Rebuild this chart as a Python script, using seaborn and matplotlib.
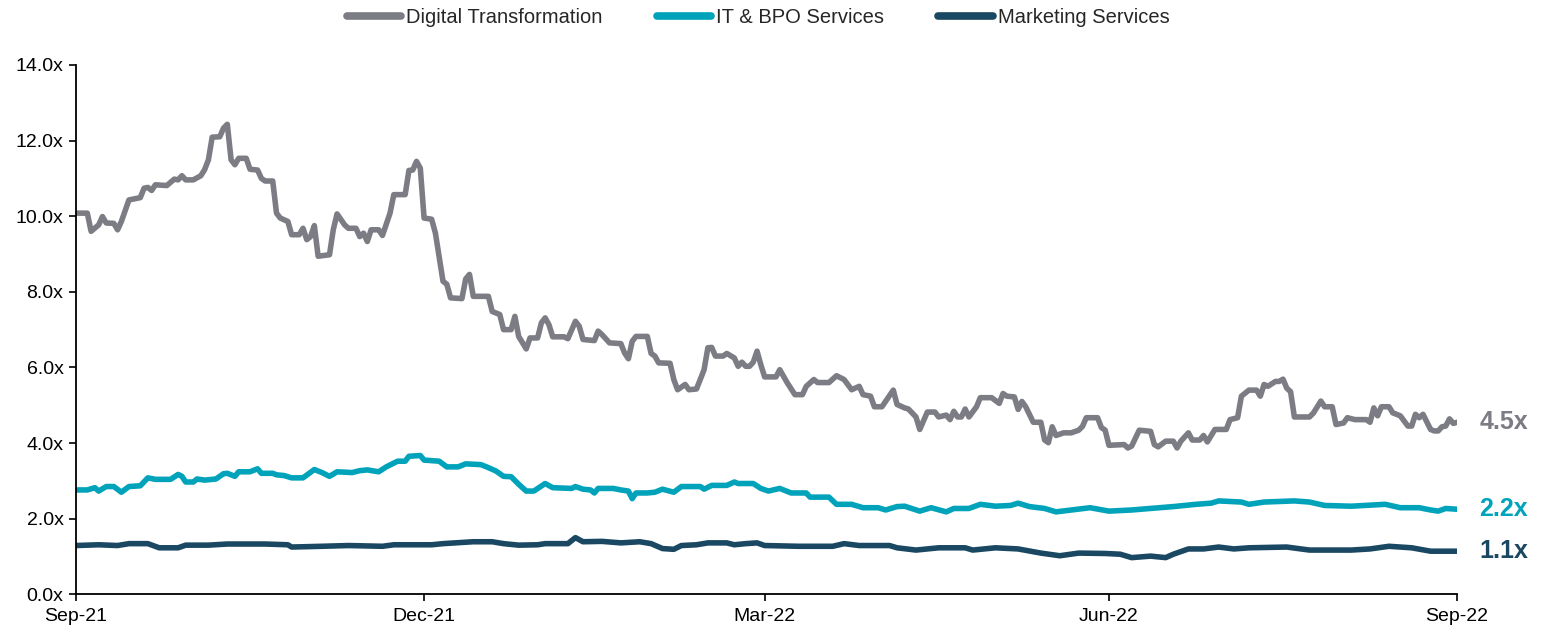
import pandas as pd
import matplotlib
matplotlib.use("Agg")
import matplotlib.pyplot as plt
import matplotlib.dates as mdates
import seaborn as sns

sns.set_theme(style="white")
plt.rcParams['font.family'] = ['Liberation Sans', 'DejaVu Sans']

# EV / revenue multiples
digital_dates = [
    "2021-09-30", "2021-10-03", "2021-10-04", "2021-10-06", "2021-10-07", "2021-10-08",
    "2021-10-10", "2021-10-11", "2021-10-12", "2021-10-14", "2021-10-17", "2021-10-18",
    "2021-10-19", "2021-10-20", "2021-10-21", "2021-10-24", "2021-10-26", "2021-10-27",
    "2021-10-28", "2021-10-29", "2021-10-31", "2021-11-02", "2021-11-03", "2021-11-04",
    "2021-11-05", "2021-11-07", "2021-11-08", "2021-11-09", "2021-11-10", "2021-11-11",
    "2021-11-12", "2021-11-14", "2021-11-15", "2021-11-17", "2021-11-18", "2021-11-19",
    "2021-11-21", "2021-11-22", "2021-11-23", "2021-11-25", "2021-11-26", "2021-11-28",
    "2021-11-29", "2021-11-30", "2021-12-01", "2021-12-02", "2021-12-03", "2021-12-06",
    "2021-12-07", "2021-12-08", "2021-12-10", "2021-12-11", "2021-12-13", "2021-12-14",
    "2021-12-15", "2021-12-16", "2021-12-17", "2021-12-19", "2021-12-20", "2021-12-22",
    "2021-12-23", "2021-12-26", "2021-12-27", "2021-12-28", "2021-12-29", "2021-12-30",
    "2021-12-31", "2022-01-02", "2022-01-03", "2022-01-05", "2022-01-06", "2022-01-07",
    "2022-01-10", "2022-01-11", "2022-01-12", "2022-01-13", "2022-01-17", "2022-01-18",
    "2022-01-20", "2022-01-21", "2022-01-23", "2022-01-24", "2022-01-25", "2022-01-27",
    "2022-01-28", "2022-01-30", "2022-01-31", "2022-02-01", "2022-02-02", "2022-02-03",
    "2022-02-06", "2022-02-07", "2022-02-09", "2022-02-10", "2022-02-11", "2022-02-14",
    "2022-02-15", "2022-02-16", "2022-02-18", "2022-02-21", "2022-02-22", "2022-02-23",
    "2022-02-24", "2022-02-25", "2022-02-28", "2022-03-01", "2022-03-02", "2022-03-03",
    "2022-03-06", "2022-03-07", "2022-03-08", "2022-03-10", "2022-03-11", "2022-03-13",
    "2022-03-15", "2022-03-16", "2022-03-17", "2022-03-18", "2022-03-20", "2022-03-21",
    "2022-03-23", "2022-03-24", "2022-03-25", "2022-03-26", "2022-03-27", "2022-03-28",
    "2022-03-29", "2022-03-30", "2022-03-31", "2022-04-03", "2022-04-04", "2022-04-06",
    "2022-04-08", "2022-04-10", "2022-04-11", "2022-04-13", "2022-04-14", "2022-04-17",
    "2022-04-19", "2022-04-21", "2022-04-23", "2022-04-25", "2022-04-26", "2022-04-28",
    "2022-04-29", "2022-05-01", "2022-05-04", "2022-05-05", "2022-05-07", "2022-05-08",
    "2022-05-10", "2022-05-11", "2022-05-13", "2022-05-15", "2022-05-16", "2022-05-18",
    "2022-05-19", "2022-05-20", "2022-05-21", "2022-05-22", "2022-05-23", "2022-05-24",
    "2022-05-26", "2022-05-27", "2022-05-30", "2022-06-01", "2022-06-02", "2022-06-03",
    "2022-06-05", "2022-06-06", "2022-06-07", "2022-06-08", "2022-06-10", "2022-06-12",
    "2022-06-13", "2022-06-14", "2022-06-15", "2022-06-16", "2022-06-18", "2022-06-20",
    "2022-06-22", "2022-06-23", "2022-06-24", "2022-06-27", "2022-06-28", "2022-06-29",
    "2022-06-30", "2022-07-04", "2022-07-05", "2022-07-06", "2022-07-08", "2022-07-11",
    "2022-07-12", "2022-07-13", "2022-07-15", "2022-07-17", "2022-07-18", "2022-07-19",
    "2022-07-21", "2022-07-22", "2022-07-24", "2022-07-25", "2022-07-26", "2022-07-28",
    "2022-07-31", "2022-08-01", "2022-08-03", "2022-08-04", "2022-08-06", "2022-08-08",
    "2022-08-09", "2022-08-10", "2022-08-11", "2022-08-13", "2022-08-14", "2022-08-15",
    "2022-08-16", "2022-08-17", "2022-08-18", "2022-08-22", "2022-08-23", "2022-08-25",
    "2022-08-26", "2022-08-28", "2022-08-29", "2022-08-31", "2022-09-01", "2022-09-03",
    "2022-09-06", "2022-09-07", "2022-09-08", "2022-09-09", "2022-09-10", "2022-09-12",
    "2022-09-13", "2022-09-15", "2022-09-17", "2022-09-18", "2022-09-19", "2022-09-20",
    "2022-09-21", "2022-09-23", "2022-09-24", "2022-09-25", "2022-09-26", "2022-09-27",
    "2022-09-28", "2022-09-29", "2022-09-30",
]
digital_values = [
    10.08, 10.08, 9.60, 9.77, 9.99, 9.82, 9.81, 9.64, 9.86, 10.43, 10.49, 10.74,
    10.76, 10.68, 10.83, 10.81, 10.98, 10.96, 11.07, 10.96, 10.96, 11.07, 11.23, 11.49,
    12.09, 12.10, 12.33, 12.43, 11.49, 11.36, 11.53, 11.53, 11.24, 11.22, 11.00, 10.93,
    10.93, 10.08, 9.95, 9.86, 9.51, 9.51, 9.68, 9.38, 9.46, 9.75, 8.94, 8.98,
    9.64, 10.06, 9.77, 9.68, 9.68, 9.46, 9.55, 9.33, 9.64, 9.64, 9.49, 10.08,
    10.57, 10.57, 11.21, 11.22, 11.45, 11.27, 9.95, 9.92, 9.55, 8.28, 8.20, 7.84,
    7.82, 8.34, 8.46, 7.88, 7.88, 7.48, 7.40, 7.00, 7.00, 7.35, 6.82, 6.49,
    6.78, 6.78, 7.18, 7.31, 7.13, 6.81, 6.81, 6.76, 7.22, 7.09, 6.74, 6.71,
    6.96, 6.87, 6.65, 6.63, 6.38, 6.23, 6.69, 6.82, 6.82, 6.37, 6.30, 6.12,
    6.11, 5.68, 5.41, 5.55, 5.41, 5.43, 5.94, 6.52, 6.53, 6.30, 6.30, 6.37,
    6.25, 6.03, 6.14, 6.03, 6.03, 6.14, 6.43, 6.07, 5.75, 5.75, 5.94, 5.59,
    5.28, 5.28, 5.50, 5.68, 5.60, 5.60, 5.78, 5.68, 5.41, 5.50, 5.28, 5.24,
    4.96, 4.96, 5.40, 5.02, 4.93, 4.90, 4.69, 4.36, 4.82, 4.82, 4.69, 4.74,
    4.62, 4.84, 4.69, 4.69, 4.90, 4.69, 4.96, 5.20, 5.20, 5.05, 5.31, 5.24,
    5.22, 4.89, 5.10, 4.96, 4.55, 4.55, 4.08, 4.01, 4.43, 4.20, 4.27, 4.27,
    4.34, 4.44, 4.67, 4.67, 4.41, 4.34, 3.94, 3.96, 3.87, 3.92, 4.34, 4.31,
    3.96, 3.90, 4.05, 4.05, 3.87, 4.05, 4.27, 4.08, 4.08, 4.20, 4.03, 4.36,
    4.36, 4.62, 4.67, 5.24, 5.40, 5.40, 5.24, 5.55, 5.50, 5.63, 5.63, 5.69,
    5.45, 5.36, 4.69, 4.69, 4.79, 5.11, 4.96, 4.96, 4.49, 4.53, 4.67, 4.62,
    4.62, 4.55, 4.93, 4.72, 4.96, 4.96, 4.80, 4.72, 4.45, 4.45, 4.76, 4.67,
    4.76, 4.36, 4.32, 4.32, 4.43, 4.45, 4.64, 4.52, 4.55,
]

itbpo_dates = [
    "2021-09-30", "2021-10-03", "2021-10-05", "2021-10-06", "2021-10-08", "2021-10-10",
    "2021-10-12", "2021-10-14", "2021-10-17", "2021-10-19", "2021-10-21", "2021-10-25",
    "2021-10-27", "2021-10-28", "2021-10-29", "2021-10-31", "2021-11-01", "2021-11-03",
    "2021-11-06", "2021-11-08", "2021-11-09", "2021-11-11", "2021-11-12", "2021-11-15",
    "2021-11-17", "2021-11-18", "2021-11-21", "2021-11-22", "2021-11-24", "2021-11-26",
    "2021-11-29", "2021-12-02", "2021-12-04", "2021-12-06", "2021-12-08", "2021-12-12",
    "2021-12-14", "2021-12-16", "2021-12-19", "2021-12-21", "2021-12-24", "2021-12-26",
    "2021-12-27", "2021-12-30", "2021-12-31", "2022-01-04", "2022-01-06", "2022-01-09",
    "2022-01-11", "2022-01-15", "2022-01-17", "2022-01-19", "2022-01-21", "2022-01-23",
    "2022-01-25", "2022-01-27", "2022-01-29", "2022-02-01", "2022-02-03", "2022-02-08",
    "2022-02-09", "2022-02-11", "2022-02-13", "2022-02-14", "2022-02-15", "2022-02-19",
    "2022-02-21", "2022-02-23", "2022-02-24", "2022-02-25", "2022-02-28", "2022-03-02",
    "2022-03-04", "2022-03-07", "2022-03-09", "2022-03-14", "2022-03-15", "2022-03-17",
    "2022-03-21", "2022-03-23", "2022-03-24", "2022-03-28", "2022-03-30", "2022-04-01",
    "2022-04-04", "2022-04-07", "2022-04-11", "2022-04-12", "2022-04-17", "2022-04-19",
    "2022-04-23", "2022-04-26", "2022-04-30", "2022-05-02", "2022-05-05", "2022-05-07",
    "2022-05-11", "2022-05-14", "2022-05-18", "2022-05-20", "2022-05-24", "2022-05-27",
    "2022-05-31", "2022-06-04", "2022-06-06", "2022-06-09", "2022-06-13", "2022-06-16",
    "2022-06-20", "2022-06-25", "2022-06-30", "2022-07-06", "2022-07-11", "2022-07-17",
    "2022-07-23", "2022-07-27", "2022-07-29", "2022-08-04", "2022-08-06", "2022-08-10",
    "2022-08-18", "2022-08-22", "2022-08-26", "2022-09-02", "2022-09-11", "2022-09-15",
    "2022-09-20", "2022-09-23", "2022-09-25", "2022-09-27", "2022-09-30",
]
itbpo_values = [
    2.76, 2.76, 2.82, 2.73, 2.85, 2.85, 2.70, 2.85, 2.87, 3.08, 3.04, 3.04,
    3.17, 3.12, 2.97, 2.97, 3.05, 3.02, 3.05, 3.19, 3.20, 3.12, 3.24, 3.24,
    3.32, 3.20, 3.20, 3.16, 3.14, 3.08, 3.08, 3.30, 3.22, 3.12, 3.24, 3.22,
    3.27, 3.29, 3.24, 3.37, 3.52, 3.52, 3.65, 3.67, 3.55, 3.52, 3.37, 3.37,
    3.45, 3.43, 3.35, 3.26, 3.12, 3.11, 2.91, 2.73, 2.73, 2.93, 2.82, 2.80,
    2.85, 2.78, 2.76, 2.68, 2.80, 2.80, 2.76, 2.73, 2.53, 2.68, 2.68, 2.70,
    2.78, 2.70, 2.85, 2.85, 2.78, 2.88, 2.88, 2.97, 2.93, 2.93, 2.80, 2.73,
    2.80, 2.68, 2.68, 2.57, 2.57, 2.38, 2.38, 2.29, 2.29, 2.23, 2.32, 2.33,
    2.20, 2.29, 2.18, 2.27, 2.27, 2.38, 2.33, 2.35, 2.41, 2.32, 2.27, 2.18,
    2.23, 2.29, 2.20, 2.23, 2.27, 2.32, 2.38, 2.41, 2.47, 2.44, 2.38, 2.44,
    2.47, 2.44, 2.35, 2.33, 2.38, 2.29, 2.29, 2.23, 2.20, 2.27, 2.25,
]

marketing_dates = [
    "2021-09-30", "2021-10-06", "2021-10-11", "2021-10-14", "2021-10-19", "2021-10-22",
    "2021-10-27", "2021-10-29", "2021-11-04", "2021-11-09", "2021-11-19", "2021-11-25",
    "2021-11-26", "2021-12-04", "2021-12-11", "2021-12-20", "2021-12-23", "2022-01-02",
    "2022-01-05", "2022-01-13", "2022-01-18", "2022-01-21", "2022-01-25", "2022-01-30",
    "2022-02-01", "2022-02-07", "2022-02-09", "2022-02-11", "2022-02-16", "2022-02-21",
    "2022-02-26", "2022-03-01", "2022-03-04", "2022-03-07", "2022-03-09", "2022-03-13",
    "2022-03-16", "2022-03-21", "2022-03-23", "2022-03-26", "2022-03-29", "2022-03-31",
    "2022-04-09", "2022-04-18", "2022-04-21", "2022-04-25", "2022-05-03", "2022-05-05",
    "2022-05-10", "2022-05-16", "2022-05-23", "2022-05-25", "2022-05-31", "2022-06-06",
    "2022-06-12", "2022-06-17", "2022-06-22", "2022-06-29", "2022-07-03", "2022-07-06",
    "2022-07-11", "2022-07-15", "2022-07-17", "2022-07-21", "2022-07-25", "2022-07-29",
    "2022-08-02", "2022-08-06", "2022-08-16", "2022-08-22", "2022-09-02", "2022-09-07",
    "2022-09-12", "2022-09-18", "2022-09-23", "2022-09-30",
]
marketing_values = [
    1.29, 1.31, 1.29, 1.34, 1.34, 1.23, 1.23, 1.30, 1.30, 1.33, 1.33, 1.31,
    1.25, 1.27, 1.29, 1.27, 1.31, 1.31, 1.34, 1.39, 1.39, 1.34, 1.30, 1.31,
    1.34, 1.34, 1.50, 1.39, 1.40, 1.36, 1.39, 1.34, 1.21, 1.19, 1.29, 1.31,
    1.36, 1.36, 1.31, 1.34, 1.36, 1.29, 1.27, 1.27, 1.34, 1.29, 1.29, 1.23,
    1.17, 1.23, 1.23, 1.17, 1.23, 1.20, 1.09, 1.02, 1.09, 1.08, 1.06, 0.97,
    1.01, 0.97, 1.06, 1.20, 1.20, 1.25, 1.20, 1.23, 1.25, 1.17, 1.17, 1.20,
    1.27, 1.23, 1.14, 1.14,
]

series_names = ["Digital Transformation", "IT & BPO Services", "Marketing Services"]
end_labels = ["4.5x", "2.2x", "1.1x"]
colors = ["#7C7C84", "#00A3BA", "#1A4862"]
tick_dates = ["2021-09-30", "2021-12-31", "2022-03-31", "2022-06-30", "2022-09-30"]


def build_frame():
    frames = []
    for name, dates, values in zip(
        series_names,
        [digital_dates, itbpo_dates, marketing_dates],
        [digital_values, itbpo_values, marketing_values],
    ):
        frames.append(pd.DataFrame({"date": pd.to_datetime(dates),
                                    "multiple": values,
                                    "series": name}))
    return pd.concat(frames, ignore_index=True)


def main():
    data = build_frame()
    palette = dict(zip(series_names, colors))

    fig = plt.figure(figsize=(15.44, 6.34), dpi=100)
    ax = fig.add_axes([0.0492, 0.0626, 0.8945, 0.835])

    sns.lineplot(data=data, x="date", y="multiple", hue="series",
                 hue_order=series_names, palette=palette, linewidth=4.0,
                 ax=ax, legend=False)

    ax.set_xlim(pd.Timestamp("2021-09-30"), pd.Timestamp("2022-09-30"))
    ax.set_ylim(0, 14)
    ax.set_yticks(range(0, 15, 2))
    ax.set_yticklabels([f"{v:.1f}x" for v in range(0, 15, 2)])
    ax.set_xticks(pd.to_datetime(tick_dates))
    ax.xaxis.set_major_formatter(mdates.DateFormatter("%b-%y"))
    ax.set_xlabel("")
    ax.set_ylabel("")

    for side in ["top", "right"]:
        ax.spines[side].set_visible(False)
    for side in ["left", "bottom"]:
        ax.spines[side].set_color("black")
        ax.spines[side].set_linewidth(1.3)
    ax.tick_params(axis="both", which="major", direction="out", length=5,
                   width=1.2, color="black", labelsize=14, labelcolor="black",
                   left=True, bottom=True)
    ax.tick_params(axis="y", pad=4)
    ax.tick_params(axis="x", pad=5)
    ax.grid(False)

    # bold end-of-series labels
    for name, label, color in zip(series_names, end_labels, colors):
        last = data[data["series"] == name].iloc[-1]
        ax.annotate(label, xy=(last["date"], last["multiple"]), xytext=(16, 0),
                    textcoords="offset points", va="center", ha="left",
                    fontsize=18, fontweight="bold", color=color,
                    annotation_clip=False)

    handles = [plt.Line2D([0], [0], color=c, linewidth=5.5, solid_capstyle="round")
               for c in colors]
    fig.legend(handles, series_names, loc="center", bbox_to_anchor=(0.491, 0.973),
               ncol=3, frameon=False, fontsize=14.5, handlelength=2.7,
               handletextpad=0.25, columnspacing=2.7)

    fig.savefig("out.png", dpi=100)


if __name__ == "__main__":
    main()
